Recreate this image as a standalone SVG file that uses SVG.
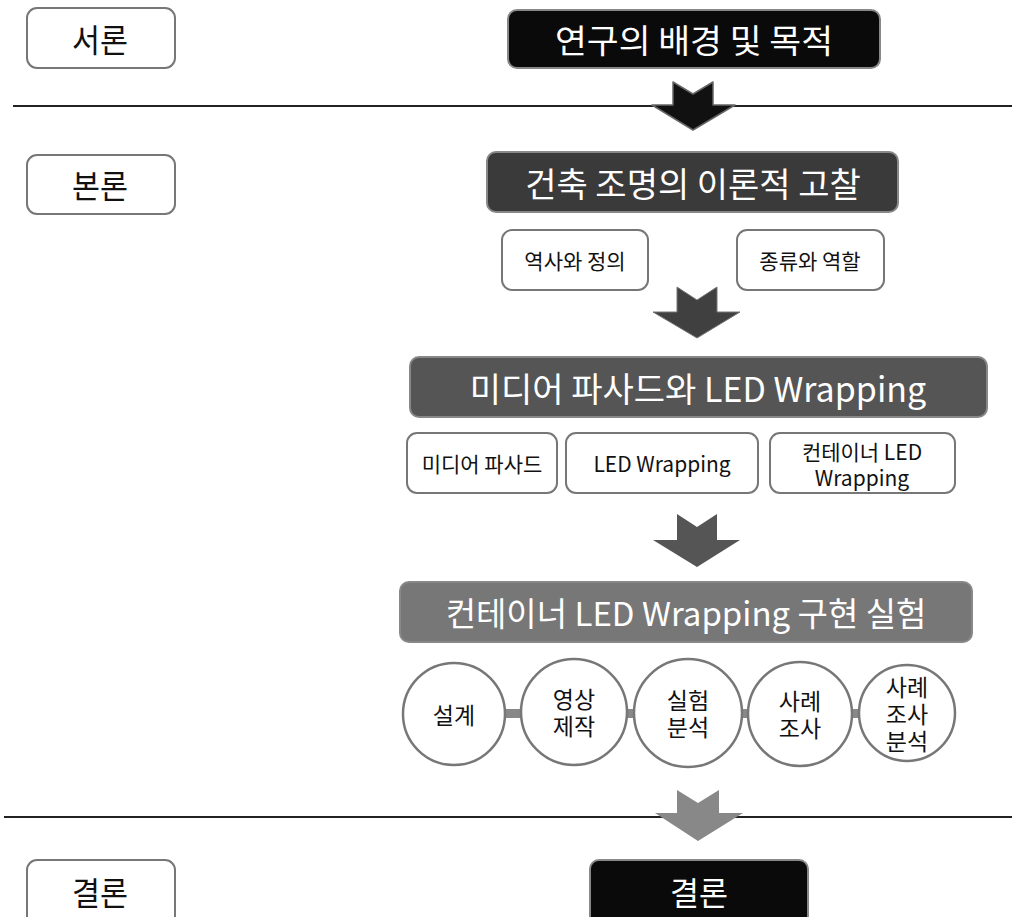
<svg xmlns="http://www.w3.org/2000/svg" width="1015" height="917" viewBox="0 0 1015 917">
<style>
text{font-family:"Noto Sans CJK KR","Noto Sans",sans-serif;text-anchor:middle;dominant-baseline:central}
.lbl{fill:#fff;stroke:#777;stroke-width:2}
.lt{font-size:32px;fill:#111}
.hd{stroke:#888;stroke-width:2}
.ht{fill:#fff}
.sb{fill:#fff;stroke:#777;stroke-width:2}
.st{font-size:21px;fill:#111}
.ci{fill:#fff;stroke:#777;stroke-width:2.5}
.ct{font-size:23px;fill:#111}
.sep{stroke:#222;stroke-width:2}
</style>
<rect width="1015" height="917" fill="#fff"/>
<g id="connectors">
<line class="sep" x1="13" y1="106" x2="1012" y2="106"/>
<line class="sep" x1="4" y1="817" x2="1012" y2="817"/>
<polygon points="673,82 693,94 713,82 713,105 735,105 693,130 652,105 673,105" fill="#111" stroke="#666" stroke-width="1.5" stroke-linejoin="round"/>
<polygon points="677,287 697,300 717,287 717,312 740,312 697,338 653,312 677,312" fill="#404040" stroke="#777" stroke-width="1"/>
<polygon points="677,514 697,527 717,514 717,540 740,540 697,567 653,540 677,540" fill="#555"/>
<polygon points="677,790 698,803 719,790 719,813 743,813 698,841 655,813 677,813" fill="#888"/>
<rect x="500" y="709" width="26" height="9" fill="#888"/>
<rect x="622" y="709" width="16" height="9" fill="#888"/>
<rect x="738" y="709" width="16" height="9" fill="#888"/>
<rect x="848" y="709" width="14" height="9" fill="#888"/>
</g>
<g id="label-intro"><rect class="lbl" x="27" y="8" width="148" height="60" rx="10"/><text class="lt" x="100" y="38" textLength="56" lengthAdjust="spacingAndGlyphs">서론</text></g>
<g id="label-body"><rect class="lbl" x="27" y="155" width="148" height="59" rx="10"/><text class="lt" x="100" y="184" textLength="56" lengthAdjust="spacingAndGlyphs">본론</text></g>
<g id="label-concl"><rect class="lbl" x="27" y="860" width="148" height="70" rx="10"/><text class="lt" x="100" y="891" textLength="56" lengthAdjust="spacingAndGlyphs">결론</text></g>
<g id="node-purpose"><rect class="hd" x="508" y="10" width="372" height="58" rx="9" fill="#0a0a0a"/><text class="ht" x="694" y="39" font-size="33" textLength="278" lengthAdjust="spacingAndGlyphs">연구의 배경 및 목적</text></g>
<g id="node-theory"><rect class="hd" x="487" y="152" width="411" height="60" rx="9" fill="#3a3a3a"/><text class="ht" x="693" y="182" font-size="34">건축 조명의 이론적 고찰</text></g>
<g id="node-history"><rect class="sb" x="502" y="230" width="146" height="60" rx="10"/><text class="st" x="575" y="260">역사와 정의</text></g>
<g id="node-types"><rect class="sb" x="737" y="230" width="147" height="60" rx="10"/><text class="st" x="810" y="260">종류와 역할</text></g>
<g id="node-media"><rect class="hd" x="410" y="357" width="577" height="60" rx="9" fill="#555"/><text class="ht" x="698" y="387" font-size="34">미디어 파사드와 LED Wrapping</text></g>
<g id="node-mf"><rect class="sb" x="407" y="433" width="150" height="60" rx="10"/><text class="st" x="482" y="463">미디어 파사드</text></g>
<g id="node-led"><rect class="sb" x="566" y="433" width="192" height="60" rx="10"/><text class="st" x="662" y="463" font-size="22">LED Wrapping</text></g>
<g id="node-cled"><rect class="sb" x="770" y="433" width="185" height="60" rx="10"/><text class="st" x="862" y="451"><tspan x="862">컨테이너 LED</tspan><tspan x="862" dy="26">Wrapping</tspan></text></g>
<g id="node-exp"><rect class="hd" x="400" y="582" width="572" height="60" rx="9" fill="#777"/><text class="ht" x="686" y="612" font-size="33">컨테이너 LED Wrapping 구현 실험</text></g>
<g id="c-design"><circle class="ci" cx="454" cy="714" r="51"/><text class="ct" x="454" y="714">설계</text></g>
<g id="c-video"><circle class="ci" cx="574" cy="712" r="53"/><text class="ct" x="574" y="698"><tspan x="574">영상</tspan><tspan x="574" dy="27">제작</tspan></text></g>
<g id="c-analysis"><circle class="ci" cx="688" cy="713" r="54"/><text class="ct" x="688" y="699"><tspan x="688">실험</tspan><tspan x="688" dy="27">분석</tspan></text></g>
<g id="c-case"><circle class="ci" cx="800" cy="714" r="52"/><text class="ct" x="800" y="700"><tspan x="800">사례</tspan><tspan x="800" dy="27">조사</tspan></text></g>
<g id="c-caseana"><circle class="ci" cx="907" cy="713" r="48"/><text class="ct" x="907" y="686"><tspan x="907">사례</tspan><tspan x="907" dy="27">조사</tspan><tspan x="907" dy="27">분석</tspan></text></g>
<g id="node-concl"><rect class="hd" x="590" y="860" width="218" height="70" rx="9" fill="#0a0a0a"/><text class="ht" x="699" y="891" font-size="32" textLength="58" lengthAdjust="spacingAndGlyphs">결론</text></g>
</svg>
